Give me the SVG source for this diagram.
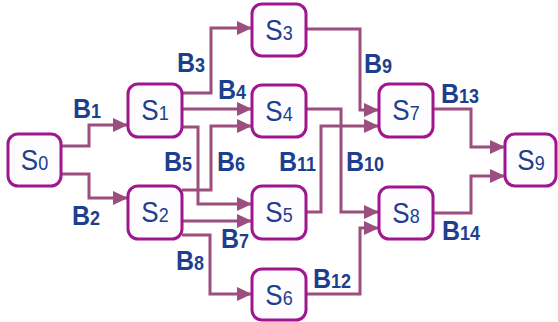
<svg xmlns="http://www.w3.org/2000/svg" width="558" height="322" viewBox="0 0 558 322">
<style>
.node rect{fill:#fdfdff;stroke:#a0168e;stroke-width:3}
.st{font-family:"Liberation Sans",Arial,sans-serif;font-size:26px;fill:#1e3f8e;text-anchor:middle}
.st .n{font-size:18px}
.lbl{font-family:"Liberation Sans",Arial,sans-serif;font-size:25px;font-weight:bold;fill:#1e3f8e}
.lbl .n{font-size:18px}
.edges path{fill:none;stroke:#9c4f7f;stroke-width:3;marker-end:url(#ah)}
</style>
<defs>
<marker id="ah" markerUnits="userSpaceOnUse" markerWidth="15" markerHeight="14" refX="15" refY="7" orient="auto">
<path d="M0,0 L15,7 L0,14 z" fill="#9c4f7f"/>
</marker>
</defs>
<g class="edges" id="connectors">
<path d="M61,146 H89 V125 H128"/>
<path d="M61,174 H89 V198 H128"/>
<path d="M182,93 H211 V28 H252"/>
<path d="M182,109 H252"/>
<path d="M182,127 H198 V204 H252"/>
<path d="M182,190 H211 V126 H252"/>
<path d="M182,221 H252"/>
<path d="M182,235 H210 V294 H252"/>
<path d="M306,29 H360 V110 H379"/>
<path d="M306,109 H341 V212 H379"/>
<path d="M306,212 H321 V126 H379"/>
<path d="M306,294 H360 V228 H379"/>
<path d="M433,109 H471 V147 H505"/>
<path d="M433,213 H471 V176 H505"/>
</g>
<g id="labels">
<text class="lbl" transform="translate(73,118) scale(1,1.08)">B<tspan class="n">1</tspan></text>
<text class="lbl" transform="translate(72,225) scale(1,1.08)">B<tspan class="n">2</tspan></text>
<text class="lbl" transform="translate(177,72) scale(1,1.08)">B<tspan class="n">3</tspan></text>
<text class="lbl" transform="translate(218,99) scale(1,1.08)">B<tspan class="n">4</tspan></text>
<text class="lbl" transform="translate(164,171) scale(1,1.08)">B<tspan class="n">5</tspan></text>
<text class="lbl" transform="translate(217,171) scale(1,1.08)">B<tspan class="n">6</tspan></text>
<text class="lbl" transform="translate(221,248) scale(1,1.08)">B<tspan class="n">7</tspan></text>
<text class="lbl" transform="translate(176,270) scale(1,1.08)">B<tspan class="n">8</tspan></text>
<text class="lbl" transform="translate(364,73) scale(1,1.08)">B<tspan class="n">9</tspan></text>
<text class="lbl" transform="translate(346,171) scale(1,1.08)">B<tspan class="n">10</tspan></text>
<text class="lbl" transform="translate(279,171) scale(1,1.08)">B<tspan class="n">11</tspan></text>
<text class="lbl" transform="translate(313,288) scale(1,1.08)">B<tspan class="n">12</tspan></text>
<text class="lbl" transform="translate(441,103) scale(1,1.08)">B<tspan class="n">13</tspan></text>
<text class="lbl" transform="translate(442,240) scale(1,1.08)">B<tspan class="n">14</tspan></text>
</g>
<g class="node" id="S0"><rect x="8" y="134" width="53" height="52" rx="10"/><text class="st" transform="translate(34.5,170) scale(1,1.1)">S<tspan class="n">0</tspan></text></g>
<g class="node" id="S1"><rect x="128" y="84" width="54" height="53" rx="10"/><text class="st" transform="translate(155,120) scale(1,1.1)">S<tspan class="n">1</tspan></text></g>
<g class="node" id="S2"><rect x="128" y="186" width="54" height="53" rx="10"/><text class="st" transform="translate(155,222) scale(1,1.1)">S<tspan class="n">2</tspan></text></g>
<g class="node" id="S3"><rect x="252" y="4" width="54" height="52" rx="10"/><text class="st" transform="translate(279,40) scale(1,1.1)">S<tspan class="n">3</tspan></text></g>
<g class="node" id="S4"><rect x="252" y="85" width="54" height="52" rx="10"/><text class="st" transform="translate(279,121) scale(1,1.1)">S<tspan class="n">4</tspan></text></g>
<g class="node" id="S5"><rect x="252" y="186" width="54" height="53" rx="10"/><text class="st" transform="translate(279,222) scale(1,1.1)">S<tspan class="n">5</tspan></text></g>
<g class="node" id="S6"><rect x="252" y="269" width="54" height="51" rx="10"/><text class="st" transform="translate(279,305) scale(1,1.1)">S<tspan class="n">6</tspan></text></g>
<g class="node" id="S7"><rect x="379" y="84" width="54" height="53" rx="10"/><text class="st" transform="translate(406,120) scale(1,1.1)">S<tspan class="n">7</tspan></text></g>
<g class="node" id="S8"><rect x="379" y="187" width="54" height="52" rx="10"/><text class="st" transform="translate(406,223) scale(1,1.1)">S<tspan class="n">8</tspan></text></g>
<g class="node" id="S9"><rect x="505" y="134" width="51" height="52" rx="10"/><text class="st" transform="translate(531,170) scale(1,1.1)">S<tspan class="n">9</tspan></text></g>
</svg>
